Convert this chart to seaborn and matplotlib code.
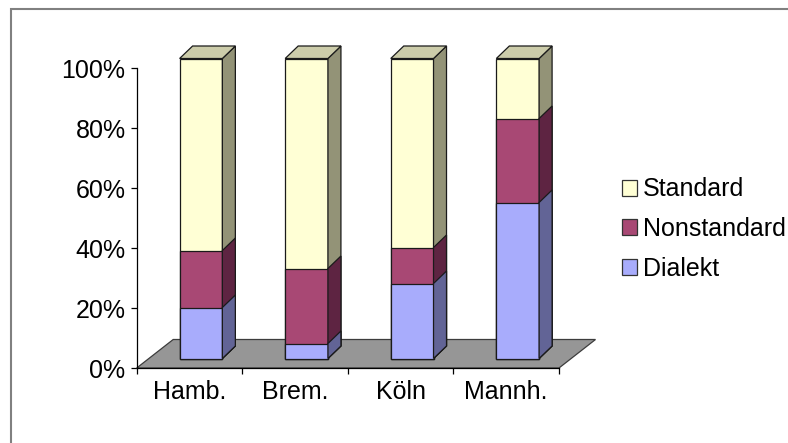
import matplotlib
matplotlib.use("Agg")
import matplotlib.pyplot as plt
import seaborn as sns
from matplotlib.patches import Polygon, Patch, Rectangle
from matplotlib.ticker import FixedLocator, PercentFormatter

# ---- data ----
categories = ["Hamb.", "Brem.", "Köln", "Mannh."]
dialekt = [17, 5, 25, 52]
nonstandard = [19, 25, 12, 28]
standard = [64, 70, 63, 20]
series_names = ["Dialekt", "Nonstandard", "Standard"]

# ---- style ----
front_colors = {"Dialekt": "#a8acfc", "Nonstandard": "#a84874", "Standard": "#ffffd5"}
side_colors = {"Dialekt": "#626496", "Nonstandard": "#5e2442", "Standard": "#939377"}
top_color = "#ccccaa"
edge = "#1a1a1a"

sns.set_theme(style="white")
plt.rcParams["font.family"] = ["Liberation Sans", "DejaVu Sans"]
plt.rcParams["font.size"] = 18
plt.rcParams["text.color"] = "black"
plt.rcParams["xtick.color"] = "black"
plt.rcParams["ytick.color"] = "black"
plt.rcParams["axes.labelcolor"] = "black"

W, H = 788, 443
fig = plt.figure(figsize=(W / 100, H / 100), dpi=100)
ax_l, ax_r, ax_b, ax_t = 136.7, 559.0, 368.0, 68.0
ax = fig.add_axes([ax_l / W, (H - ax_b) / H, (ax_r - ax_l) / W, (ax_b - ax_t) / H])
ax.set_xlim(-0.5, len(categories) - 0.5)
ax.set_ylim(0, 100)

px_x = (ax_r - ax_l) / len(categories)   # pixels per category unit
px_y = (ax_b - ax_t) / 100.0             # pixels per percent

# projection offsets (pixels -> data units)
floor_dx, floor_dy = 36.5 / px_x, 28.5 / px_y
front_dx, front_dy = 11.5 / px_x, 9.5 / px_y
depth_dx, depth_dy = 13.0 / px_x, 12.5 / px_y
bw = 0.405

# floor
x0, x1 = -0.5, len(categories) - 0.5
floor = Polygon([(x0, 0), (x1, 0), (x1 + floor_dx, floor_dy), (x0 + floor_dx, floor_dy)],
                closed=True, facecolor="#969696", edgecolor="#3c3c3c", lw=0.9,
                clip_on=False, zorder=1)
ax.add_patch(floor)

# cumulative layers, tallest first (overplot)
cum_d = list(dialekt)
cum_n = [d + n for d, n in zip(dialekt, nonstandard)]
cum_s = [d + n + s for d, n, s in zip(dialekt, nonstandard, standard)]
layers = [("Standard", cum_s), ("Nonstandard", cum_n), ("Dialekt", cum_d)]

for name, cum in layers:
    n_before = len(ax.patches)
    sns.barplot(x=categories, y=cum, color=front_colors[name], saturation=1,
                width=bw, edgecolor=edge, linewidth=0.9, ax=ax, zorder=3)
    new = ax.patches[n_before:]
    for i, p in enumerate(new):
        p.set_x(p.get_x() + front_dx)
        p.set_y(front_dy)
        p.set_clip_on(False)
        xr = p.get_x() + p.get_width()
        yb, yt = front_dy, front_dy + cum[i]
        side = Polygon([(xr, yb), (xr + depth_dx, yb + depth_dy),
                        (xr + depth_dx, yt + depth_dy), (xr, yt)],
                       closed=True, facecolor=side_colors[name], edgecolor=edge,
                       lw=0.9, clip_on=False, zorder=3)
        ax.add_patch(side)
        if name == "Standard":
            xl = p.get_x()
            top = Polygon([(xl, yt), (xr, yt), (xr + depth_dx, yt + depth_dy),
                           (xl + depth_dx, yt + depth_dy)],
                          closed=True, facecolor=top_color, edgecolor=edge,
                          lw=0.9, clip_on=False, zorder=3)
            ax.add_patch(top)

# axes styling
for s in ["top", "right"]:
    ax.spines[s].set_visible(False)
for s in ["left", "bottom"]:
    ax.spines[s].set_color("black")
    ax.spines[s].set_linewidth(0.9)
    ax.spines[s].set_zorder(2)
ax.set_yticks(range(0, 101, 20))
ax.yaxis.set_major_formatter(PercentFormatter(decimals=0))
ax.tick_params(axis="y", direction="out", length=4, width=0.9, color="black",
               labelcolor="black", pad=4, labelsize=18, left=True)
ax.set_xticks(range(len(categories)))
ax.set_xticklabels(categories)
ax.xaxis.set_minor_locator(FixedLocator([i - 0.5 for i in range(len(categories) + 1)]))
ax.tick_params(axis="x", which="major", length=0, pad=8.5, labelsize=18,
               labelcolor="black")
ax.tick_params(axis="x", which="minor", direction="out", length=4, width=0.9,
               color="black", bottom=True)
ax.set_xlabel("")
ax.set_ylabel("")
ax.grid(False)

# legend
handles = [Patch(facecolor=front_colors[n], edgecolor="#333333", lw=0.9, label=n)
           for n in ["Standard", "Nonstandard", "Dialekt"]]
leg = fig.legend(handles=handles, loc="center left",
                 bbox_to_anchor=(622 / W, (H - 229) / H),
                 frameon=False, fontsize=18, handlelength=0.6, handleheight=0.6,
                 handletextpad=0.25, labelspacing=0.62, borderpad=0, borderaxespad=0)
for t in leg.get_texts():
    t.set_color("black")

# chart-area border
fig.patches.append(Rectangle((11 / W, -0.1), 1.2, 1 - 9 / H + 0.1,
                             transform=fig.transFigure, fill=False,
                             edgecolor="#808080", lw=1.5, zorder=0))

fig.savefig("out.png", dpi=100)
